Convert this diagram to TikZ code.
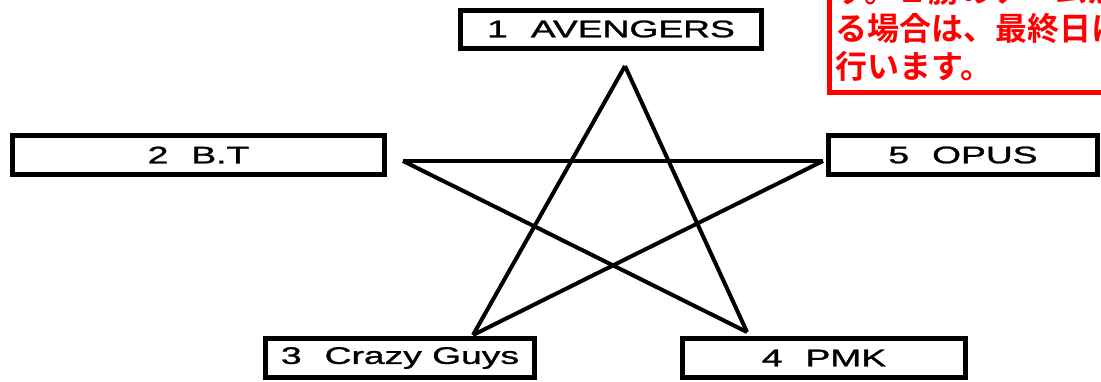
\documentclass[tikz,border=0pt]{standalone}
\usepackage{fontspec}
\setmainfont{Liberation Sans}
\newfontfamily\lblfont{Liberation Sans}[FakeBold=1]
\newfontfamily\jpfont{Noto Sans CJK JP}[UprightFont=* Bold]
\newcommand{\team}[2]{\scalebox{1.55}[1]{#1\hspace{0.62em}#2}}

\begin{document}
\begin{tikzpicture}[x=1pt,y=-1pt,
  teambox/.style={draw,line width=5pt,inner sep=0pt,minimum height=38pt,
    font=\lblfont\fontsize{24}{28}\selectfont},
  starline/.style={line width=4pt}]
\useasboundingbox (0,0) rectangle (1101,381);
\fill[white] (0,0) rectangle (1101,381);
% team boxes
\node[teambox,minimum width=301pt] (A) at (611,29) {\team{1}{AVENGERS}};
\node[teambox,minimum width=372pt,minimum height=39pt] (B) at (198.5,155) {\team{2}{B.T}};
\node[teambox,minimum width=269pt,minimum height=39pt] (C) at (400,358) {\team{3}{Crazy Guys}};
\node[teambox,minimum width=283pt,minimum height=39pt] (P) at (824,358) {\team{4}{PMK}};
\node[teambox,minimum width=269pt,minimum height=39pt] (O) at (963,155) {\team{5}{OPUS}};
% star corners
\coordinate (s1) at (625,66);
\coordinate (s2) at (403,161);
\coordinate (s3) at (473,335);
\coordinate (s4) at (747,332);
\coordinate (s5) at (823,161);
\draw[starline] (s1)--(s3);
\draw[starline] (s1)--(s4);
\draw[starline] (s2)--(s5);
\draw[starline] (s2)--(s4);
\draw[starline] (s5)--(s3);
% note (cut off at the edge)
\begin{scope}
\clip (0,0) rectangle (1101,381);
\draw[red,line width=5pt,fill=white] (829.5,-20) |- (1120,92.5);
\node[red,font=\jpfont\fontsize{32}{38}\selectfont,anchor=base west,inner sep=0pt] (N1) at (835,2) {す。２勝のチームが};
\node[red,font=\jpfont\fontsize{32}{38}\selectfont,anchor=base west,inner sep=0pt] (N2) at (835,40) {る場合は、最終日に};
\node[red,font=\jpfont\fontsize{32}{38}\selectfont,anchor=base west,inner sep=0pt] (N3) at (835,78) {行います。};
\end{scope}
\end{tikzpicture}
\end{document}
